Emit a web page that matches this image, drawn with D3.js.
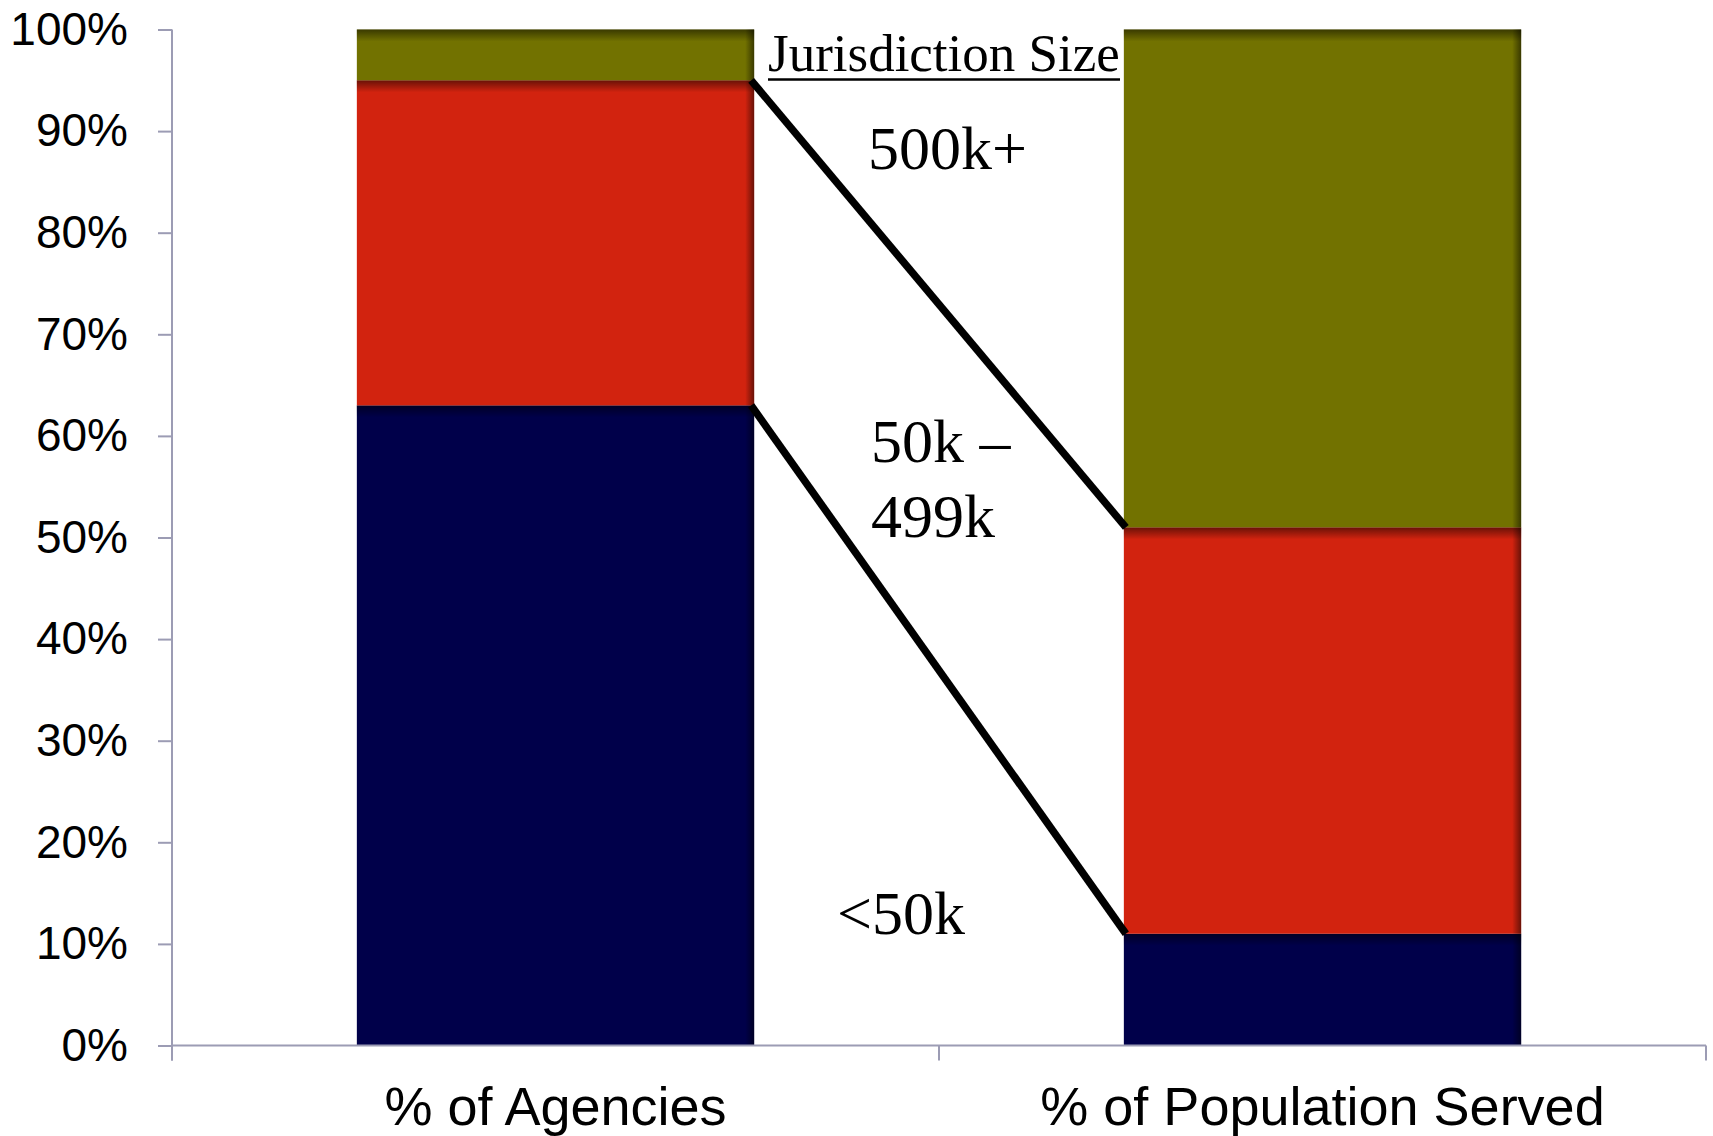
<!DOCTYPE html>
<html>
<head>
<meta charset="utf-8">
<script src="https://cdn.jsdelivr.net/npm/d3@7"></script>
<style>
  html, body { margin: 0; padding: 0; background: #fff; }
  svg { display: block; }
</style>
</head>
<body>
<svg id="chart" width="1713" height="1136"></svg>
<script>
// ---- data ----
const categories = ["% of Agencies", "% of Population Served"];
const seriesNames = ["<50k", "50k – 499k", "500k+"];
const under50k = [63, 11];
const from50kTo499k = [32, 40];
const over500k = [5, 49];
const yTicks = [0, 10, 20, 30, 40, 50, 60, 70, 80, 90, 100];
const seriesColors = ["#00004a", "#d2230f", "#727200"];

(function () {
const rows = categories.map((c, i) => ({
  cat: c, s0: under50k[i], s1: from50kTo499k[i], s2: over500k[i]
}));

const svg = d3.select("#chart");
const plotLeft = 172, plotRight = 1706, plotTop = 29.5, plotBottom = 1045.5;

const x = d3.scaleBand().domain(categories).range([plotLeft, plotRight])
  .paddingInner(0.482).paddingOuter(0.241);
const y = d3.scaleLinear().domain([0, 100]).range([plotBottom, plotTop]);
const color = d3.scaleOrdinal().domain(["s0", "s1", "s2"]).range(seriesColors);

const stack = d3.stack().keys(["s0", "s1", "s2"]);
const stacked = stack(rows);

// gradients
const defs = svg.append("defs");
const gTop = defs.append("linearGradient").attr("id", "shadeTop")
  .attr("x1", 0).attr("y1", 0).attr("x2", 0).attr("y2", 1);
gTop.append("stop").attr("offset", "0%").attr("stop-color", "#000").attr("stop-opacity", 0.5);
gTop.append("stop").attr("offset", "100%").attr("stop-color", "#000").attr("stop-opacity", 0);
const gRight = defs.append("linearGradient").attr("id", "shadeRight")
  .attr("x1", 0).attr("y1", 0).attr("x2", 1).attr("y2", 0);
gRight.append("stop").attr("offset", "0%").attr("stop-color", "#000").attr("stop-opacity", 0);
gRight.append("stop").attr("offset", "100%").attr("stop-color", "#000").attr("stop-opacity", 0.5);

// bars
const layers = svg.append("g").selectAll("g").data(stacked).join("g")
  .attr("fill", d => color(d.key));
layers.selectAll("rect.bar").data(d => d).join("rect")
  .attr("class", "bar")
  .attr("x", d => x(d.data.cat))
  .attr("y", d => y(d[1]))
  .attr("width", x.bandwidth())
  .attr("height", d => y(d[0]) - y(d[1]));
layers.selectAll("rect.topshade").data(d => d).join("rect")
  .attr("class", "topshade")
  .attr("x", d => x(d.data.cat))
  .attr("y", d => y(d[1]))
  .attr("width", x.bandwidth())
  .attr("height", d => Math.min(12, y(d[0]) - y(d[1])))
  .attr("fill", "url(#shadeTop)");
layers.selectAll("rect.rightshade").data(d => d).join("rect")
  .attr("class", "rightshade")
  .attr("x", d => x(d.data.cat) + x.bandwidth() - 9)
  .attr("y", d => y(d[1]))
  .attr("width", 9)
  .attr("height", d => y(d[0]) - y(d[1]))
  .attr("fill", "url(#shadeRight)");

// y axis
const axisColor = "#9c9cb4";
const yAxis = d3.axisLeft(y).tickValues(yTicks).tickSize(14).tickPadding(30)
  .tickFormat(d => d + "%");
const gy = svg.append("g").attr("transform", `translate(${plotLeft},0)`).call(yAxis);
gy.select(".domain").remove();
gy.selectAll(".tick line").attr("stroke", axisColor).attr("stroke-width", 2);
gy.selectAll(".tick text")
  .attr("font-family", "'Liberation Sans', Arial, sans-serif")
  .attr("font-size", 46).attr("fill", "#000");
svg.append("line").attr("x1", plotLeft).attr("x2", plotLeft)
  .attr("y1", plotTop).attr("y2", plotBottom + 15)
  .attr("stroke", axisColor).attr("stroke-width", 2);

// x axis
svg.append("line").attr("x1", plotLeft).attr("x2", plotRight)
  .attr("y1", plotBottom).attr("y2", plotBottom)
  .attr("stroke", axisColor).attr("stroke-width", 2);
const boundaries = [plotLeft].concat(categories.map(c => x(c) - x.step() * x.paddingInner() / 2 + x.step()));
boundaries[boundaries.length - 1] = plotRight;
svg.append("g").selectAll("line").data(boundaries).join("line")
  .attr("x1", d => d).attr("x2", d => d)
  .attr("y1", plotBottom).attr("y2", plotBottom + 15)
  .attr("stroke", axisColor).attr("stroke-width", 2);
svg.append("g").selectAll("text").data(categories).join("text")
  .attr("x", d => x(d) + x.bandwidth() / 2)
  .attr("y", 1125)
  .attr("text-anchor", "middle")
  .attr("font-family", "'Liberation Sans', Arial, sans-serif")
  .attr("font-size", 54)
  .attr("fill", "#000")
  .text(d => d);

// connector lines
const c0 = categories[0], c1 = categories[1];
const lineData = [
  [[x(c0) + x.bandwidth() - 3, y(under50k[0] + from50kTo499k[0])], [x(c1) + 2, y(under50k[1] + from50kTo499k[1])]],
  [[x(c0) + x.bandwidth() - 3, y(under50k[0])], [x(c1) + 2, y(under50k[1])]]
];
svg.append("g").selectAll("path").data(lineData).join("path")
  .attr("d", d3.line())
  .attr("stroke", "#000").attr("stroke-width", 7.5).attr("fill", "none");

// annotations
const serif = "'Liberation Serif', 'Times New Roman', serif";
svg.append("text").attr("x", 768).attr("y", 71)
  .attr("font-family", serif).attr("font-size", 53).attr("fill", "#000")
  .text("Jurisdiction Size");
svg.append("line").attr("x1", 768).attr("x2", 1120).attr("y1", 79.5).attr("y2", 79.5)
  .attr("stroke", "#000").attr("stroke-width", 2.5);
svg.append("text").attr("x", 868).attr("y", 169)
  .attr("font-family", serif).attr("font-size", 62).attr("fill", "#000")
  .text(seriesNames[2]);
const mid = svg.append("text").attr("font-family", serif).attr("font-size", 62).attr("fill", "#000");
mid.append("tspan").attr("x", 871).attr("y", 462).text("50k –");
mid.append("tspan").attr("x", 871).attr("y", 537).text("499k");
svg.append("text").attr("x", 837).attr("y", 934)
  .attr("font-family", serif).attr("font-size", 62).attr("fill", "#000")
  .text(seriesNames[0]);
})();
</script>
</body>
</html>
